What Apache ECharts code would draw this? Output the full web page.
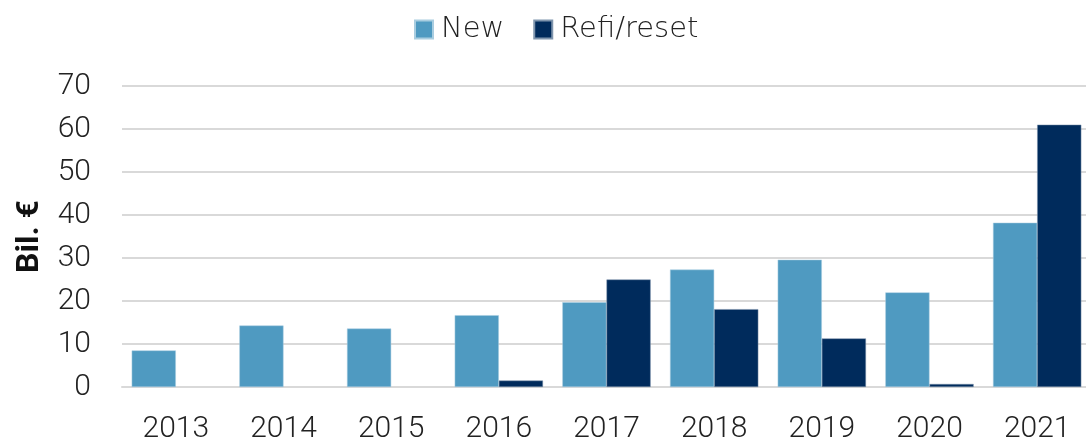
<!DOCTYPE html>
<html>
<head>
<meta charset="utf-8">
<script src="https://cdn.jsdelivr.net/npm/echarts@6/dist/echarts.min.js"></script>
<style>
  html, body { margin: 0; padding: 0; background: #fff; }
  #chart { width: 1086px; height: 441px; }
</style>
</head>
<body>
<div id="chart"></div>
<script>
  // data
  const years = ['2013', '2014', '2015', '2016', '2017', '2018', '2019', '2020', '2021'];
  const newIssues = [8.5, 14.3, 13.6, 16.7, 19.7, 27.3, 29.6, 22.0, 38.2];
  const refiReset = [null, null, null, 1.5, 25.0, 18.1, 11.3, 0.7, 61.0];

  const chart = echarts.init(document.getElementById('chart'));
  chart.setOption({
    animation: false,
    textStyle: { fontFamily: 'Roboto' },
    legend: {
      top: 10,
      left: 409,
      itemWidth: 18,
      itemHeight: 18,
      itemGap: 29,
      icon: 'rect',
      textStyle: { fontFamily: 'DejaVu Sans', fontSize: 29, fontWeight: 300, color: '#222', padding: [0, 0, 0, 3] },
      data: ['New', 'Refi/reset']
    },
    grid: {
      left: 122,
      width: 969,
      top: 86,
      bottom: 54,
      containLabel: false,
      outerBoundsMode: 'none'
    },
    xAxis: {
      type: 'category',
      data: years,
      axisLine: { lineStyle: { color: '#d9d9d9', width: 2 } },
      axisTick: { length: 11, lineStyle: { color: '#d9d9d9', width: 2 } },
      axisLabel: { fontSize: 30, fontWeight: 300, color: '#222', margin: 27 }
    },
    yAxis: {
      type: 'value',
      min: 0,
      max: 70,
      interval: 10,
      name: 'Bil. €',
      nameLocation: 'middle',
      nameGap: 76,
      nameTextStyle: { fontSize: 32, fontWeight: 'bold', color: '#111' },
      axisLine: { show: false },
      axisTick: { show: false },
      axisLabel: { fontSize: 30, fontWeight: 300, color: '#222', margin: 31 },
      splitLine: { lineStyle: { color: '#d9d9d9', width: 2 } }
    },
    series: [
      {
        name: 'New',
        type: 'bar',
        data: newIssues,
        barGap: '0%',
        barCategoryGap: '18%',
        itemStyle: { color: '#4f9ac1', borderColor: '#a9cde0', borderWidth: 0.5 }
      },
      {
        name: 'Refi/reset',
        type: 'bar',
        data: refiReset,
        itemStyle: { color: '#002b5c', borderColor: '#7f95ad', borderWidth: 0.5 }
      }
    ]
  });
</script>
</body>
</html>
